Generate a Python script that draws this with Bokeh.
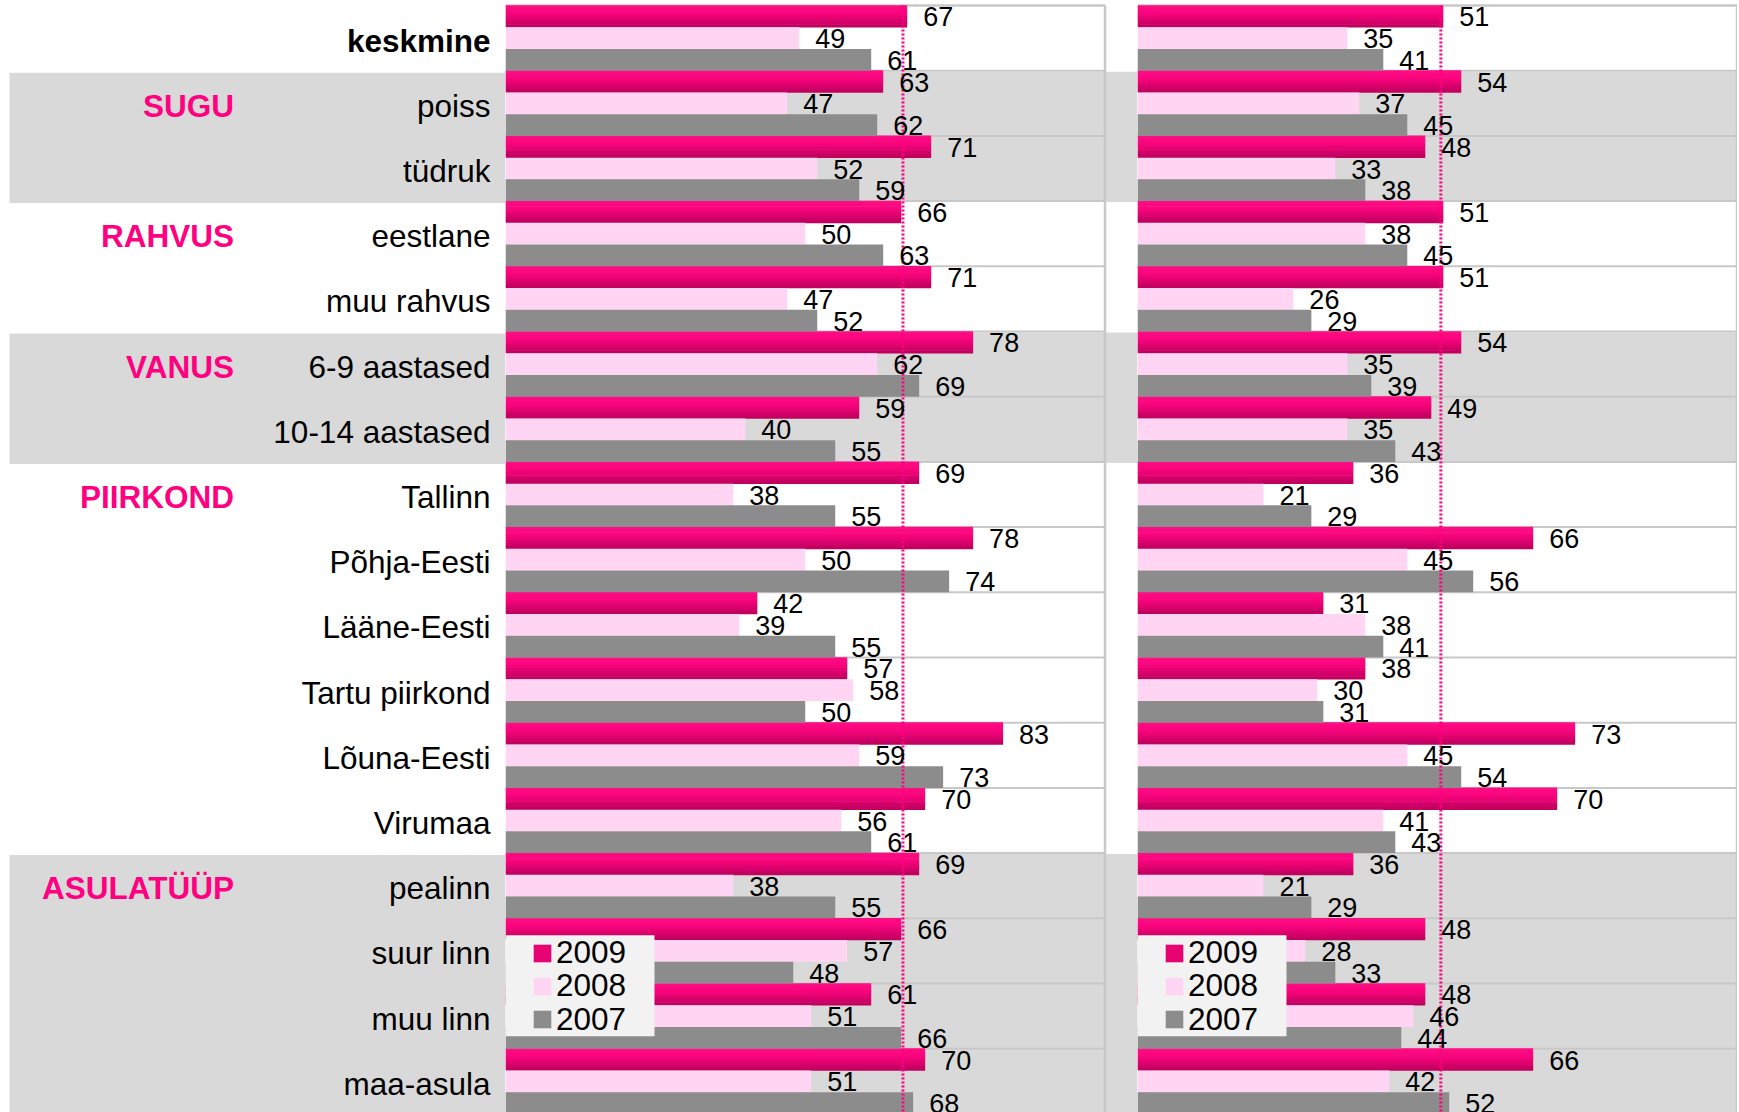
from bokeh.plotting import figure
from bokeh.layouts import row
from bokeh.models import Range1d, Legend, LegendItem, BoxAnnotation, ColumnDataSource
from bokeh.core.properties import value
from bokeh.embed import file_html
from bokeh.resources import INLINE

# ---------------- data ----------------
categories = ["keskmine", "poiss", "tüdruk", "eestlane", "muu rahvus",
              "6-9 aastased", "10-14 aastased", "Tallinn", "Põhja-Eesti",
              "Lääne-Eesti", "Tartu piirkond", "Lõuna-Eesti", "Virumaa",
              "pealinn", "suur linn", "muu linn", "maa-asula"]
group_labels = ["SUGU", "RAHVUS", "VANUS", "PIIRKOND", "ASULATÜÜP"]
group_first = [1, 3, 5, 7, 13]
shaded_first = [1, 5, 13]
shaded_last = [2, 6, 16]
years = ["2009", "2008", "2007"]

left_2009 = [67, 63, 71, 66, 71, 78, 59, 69, 78, 42, 57, 83, 70, 69, 66, 61, 70]
left_2008 = [49, 47, 52, 50, 47, 62, 40, 38, 50, 39, 58, 59, 56, 38, 57, 51, 51]
left_2007 = [61, 62, 59, 63, 52, 69, 55, 55, 74, 55, 50, 73, 61, 55, 48, 66, 68]

right_2009 = [51, 54, 48, 51, 51, 54, 49, 36, 66, 31, 38, 73, 70, 36, 48, 48, 66]
right_2008 = [35, 37, 33, 38, 26, 35, 35, 21, 45, 38, 30, 45, 41, 21, 28, 46, 42]
right_2007 = [41, 45, 38, 45, 29, 39, 43, 29, 56, 41, 31, 54, 43, 29, 33, 44, 52]

mean_left = 66.3
mean_right = 50.6

# ---------------- layout constants ----------------
PX_PER_UNIT = 5.995
CAT_PX = 65.2
TOP_PX = 5
H = 1112
Y_BOTTOM = (H - TOP_PX) / CAT_PX
Y_TOP = -TOP_PX / CAT_PX
FONT_NAME = "Liberation Sans"
FONT = value(FONT_NAME)
PINK = "#FF0080"
BAND = "#D9D9D9"
GRID = "#C8C8C8"
LIGHT = "#FFD5F3"
GREY = "#8C8C8C"
LEGEND_Y = [141, 108, 74.5]   # legend entry positions (px from bottom)

n = len(categories)
idx = list(range(n))


def grad_color(t):
    stops = [(0.0, (255, 14, 132)), (0.4, (248, 4, 124)), (1.0, (188, 0, 92))]
    for (t0, c0), (t1, c1) in zip(stops[:-1], stops[1:]):
        if t <= t1:
            f = (t - t0) / (t1 - t0)
            c = [round(a + (b - a) * f) for a, b in zip(c0, c1)]
            return "#%02x%02x%02x" % tuple(c)
    return "#%02x%02x%02x" % stops[-1][1]


def base_fig(width, xmax, band_left=0, band_shift=0.0):
    p = figure(width=width, height=H, x_range=Range1d(0, xmax),
               y_range=Range1d(start=Y_BOTTOM, end=Y_TOP),
               toolbar_location=None, output_backend="svg",
               x_axis_location=None, y_axis_location=None,
               min_border=0, outline_line_color=None,
               background_fill_color="white", border_fill_color="white")
    p.grid.visible = False
    band_src = ColumnDataSource(dict(
        top=[a + band_shift for a in shaded_first],
        bottom=[b + 1 + band_shift for b in shaded_last]))
    p.quad(left=band_left, right=xmax, top="top", bottom="bottom",
           source=band_src, fill_color=BAND, line_color=None)
    return p


# ---------------- label column ----------------
lab_w = 505
lab = base_fig(lab_w, lab_w, band_left=9, band_shift=2 / CAT_PX)
cat_src = ColumnDataSource(dict(x=[490] * n, y=[i + 0.5 for i in idx],
                                text=categories,
                                style=["bold"] + ["normal"] * (n - 1)))
lab.text(x="x", y="y", text="text", source=cat_src, text_align="right",
         text_baseline="alphabetic", y_offset=2.5, text_font=FONT,
         text_font_size="31.5px", text_font_style="style", text_color="black")
grp_src = ColumnDataSource(dict(x=[233.5] * len(group_labels),
                                y=[g + 0.5 for g in group_first],
                                text=group_labels))
lab.text(x="x", y="y", text="text", source=grp_src, text_align="right",
         text_baseline="alphabetic", y_offset=2.5, text_font=FONT,
         text_font_size="31.5px", text_font_style="bold", text_color=PINK)


# ---------------- panels ----------------
def panel(width, v09, v08, v07, mean):
    xmax = width / PX_PER_UNIT
    p = base_fig(width, xmax, band_shift=1 / CAT_PX)
    # grid lines at category boundaries
    bnd = list(range(1, n + 1))
    p.segment(x0=[0] * len(bnd), x1=[100] * len(bnd), y0=bnd, y1=bnd,
              line_color=GRID, line_width=2)
    # plot area border (top + right)
    p.segment(x0=[0, 100], y0=[0, 0], x1=[100, 100], y1=[0, Y_BOTTOM + 1],
              line_color=GRID, line_width=2.5)

    h = 1.0 / 3
    # 2009 - gradient pink drawn in strips
    N = 8
    r09 = None
    for k in range(N):
        yk = [i + (k + 0.5) * h / N for i in idx]
        r = p.hbar(y=yk, left=0, right=v09, height=h / N * 1.25,
                   fill_color=grad_color((k + 0.5) / N), line_color=None)
        if k == N // 2:
            r09 = r
    r08 = p.hbar(y=[i + 0.5 for i in idx], left=0, right=v08, height=h,
                 fill_color=LIGHT, line_color=None)
    r07 = p.hbar(y=[i + 5 / 6 for i in idx], left=0, right=v07, height=h,
                 fill_color=GREY, line_color=None)

    # mean dotted line
    p.segment(x0=[mean], x1=[mean], y0=[0], y1=[Y_BOTTOM + 1],
              line_color=PINK, line_width=3, line_dash="2 2")

    # value labels
    for vals, off in ((v09, 1 / 6), (v08, 0.5), (v07, 5 / 6)):
        p.text(x=vals, y=[i + off for i in idx], text=[str(v) for v in vals],
               x_offset=16, y_offset=0.5, text_baseline="alphabetic",
               text_align="left", text_font=FONT, text_font_size="27px",
               text_color="black")

    # legend background + one legend entry per year
    box = BoxAnnotation(left=0, right=149 / PX_PER_UNIT, top=14.26,
                        bottom=15.81, fill_color="#F2F2F2", fill_alpha=1.0,
                        line_color=None, level="annotation")
    p.add_layout(box)
    for yr, rend, ly in zip(years, (r09, r08, r07), LEGEND_Y):
        leg = Legend(items=[LegendItem(label=yr, renderers=[rend])],
                     location=(26, ly),
                     padding=0, margin=0, spacing=0,
                     glyph_width=22, glyph_height=22, label_height=33,
                     label_standoff=3, label_text_font=FONT_NAME,
                     label_text_font_size="31.5px", label_text_color="black",
                     background_fill_alpha=0.0, border_line_color=None)
        p.add_layout(leg, "center")
    return p


left = panel(632, left_2009, left_2008, left_2007, mean_left)
right = panel(600, right_2009, right_2008, right_2007, mean_right)

layout = row(lab, left, right, spacing=0)
open("out.html", "w").write(file_html(layout, INLINE))
